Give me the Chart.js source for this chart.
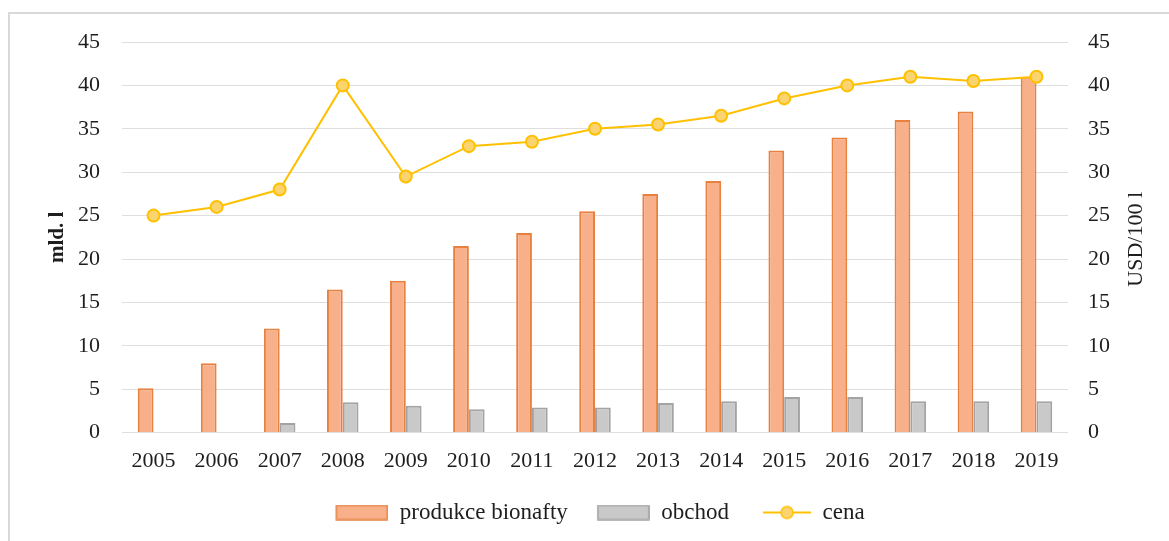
<!DOCTYPE html>
<html>
<head>
<meta charset="utf-8">
<script src="https://cdn.jsdelivr.net/npm/chart.js@4"></script>
<style>
    body { margin: 0; background: #fff; }
    #frame { position: absolute; left: 8px; top: 12px; width: 1175px; height: 545px; border: 2px solid #d9d9d9; box-sizing: border-box; }
    #wrap { position: absolute; left: 0; top: 0; width: 1169px; height: 541px; }
</style>
</head>
<body>
<div id="frame"></div>
<div id="wrap"><canvas id="chart"></canvas></div>
<script>
// Data
const years = ['2005', '2006', '2007', '2008', '2009', '2010', '2011', '2012', '2013', '2014', '2015', '2016', '2017', '2018', '2019'];
const production = [5.1, 8, 12, 16.5, 17.5, 21.5, 23, 25.5, 27.5, 29, 32.5, 34, 36, 37, 41];
const trade = [0, 0, 1.1, 3.5, 3.1, 2.7, 2.9, 2.9, 3.4, 3.6, 4.1, 4.1, 3.6, 3.6, 3.6];
const price = [25, 26, 28, 40, 29.5, 33, 33.5, 35, 35.5, 36.5, 38.5, 40, 41, 40.5, 41];
const axisTicks = [0, 5, 10, 15, 20, 25, 30, 35, 40, 45];

const FONT = 'Liberation Serif, Times New Roman, serif';
const TEXT = '#1e1e1e';
const SIZE = 22;

// Legend swatches (20px blank on the left acts as the gap between items)
function boxSwatch(fill, stroke) {
    const c = document.createElement('canvas');
    c.width = 72; c.height = 16;
    const g = c.getContext('2d');
    g.fillStyle = fill;
    g.fillRect(20, 1, 52, 14);
    g.strokeStyle = stroke;
    g.lineWidth = 1.5;
    g.strokeRect(20, 1, 51, 14);
    return c;
}
function lineSwatch() {
    const c = document.createElement('canvas');
    c.width = 72; c.height = 16;
    const g = c.getContext('2d');
    g.strokeStyle = '#ffc000';
    g.lineWidth = 2;
    g.beginPath(); g.moveTo(24, 8); g.lineTo(72, 8); g.stroke();
    g.beginPath(); g.arc(48, 8, 6, 0, Math.PI * 2);
    g.fillStyle = '#fbd36f'; g.fill();
    g.lineWidth = 1.5; g.stroke();
    return c;
}
const swatches = [boxSwatch('#f7b08a', '#e8803f'), boxSwatch('#c9c9c9', '#a3a3a3'), lineSwatch()];

// Right axis title reads bottom-to-top, like the left one
const rightTitle = {
    id: 'rightTitle',
    afterDraw(chart) {
        const s = chart.scales.y1;
        const ctx = chart.ctx;
        ctx.save();
        ctx.translate(1136, (s.top + s.bottom) / 2 + 2);
        ctx.rotate(-Math.PI / 2);
        ctx.font = '22px ' + FONT;
        ctx.fillStyle = TEXT;
        ctx.textAlign = 'center';
        ctx.textBaseline = 'middle';
        ctx.fillText('USD/100 l', 0, 0);
        ctx.restore();
    }
};

// Legend sits a bit right of the canvas centre in the reference
const legendShift = {
    id: 'legendShift',
    afterLayout(chart) {
        chart.legend.left += 6;
        chart.legend.right += 6;
    }
};

new Chart(document.getElementById('chart'), {
    type: 'bar',
    data: {
        labels: years,
        datasets: [{
            label: 'produkce bionafty',
            data: production,
            backgroundColor: '#f7b08a',
            borderColor: '#e8803f',
            borderWidth: 2,
            categoryPercentage: 0.5,
            barPercentage: 1.0,
            yAxisID: 'y'
        }, {
            label: 'obchod',
            data: trade,
            backgroundColor: '#c9c9c9',
            borderColor: '#a3a3a3',
            borderWidth: 2,
            categoryPercentage: 0.5,
            barPercentage: 1.0,
            yAxisID: 'y'
        }, {
            type: 'line',
            label: 'cena',
            data: price,
            borderColor: '#ffc000',
            borderWidth: 2,
            pointBackgroundColor: '#fbd36f',
            pointBorderColor: '#ffc000',
            pointBorderWidth: 2,
            pointRadius: 6,
            tension: 0,
            order: -1,
            yAxisID: 'y1'
        }]
    },
    options: {
        responsive: true,
        maintainAspectRatio: false,
        animation: false,
        layout: {
            padding: { top: 42, left: 0, right: 0, bottom: 7 }
        },
        plugins: {
            tooltip: { enabled: false },
            legend: {
                position: 'bottom',
                labels: {
                    usePointStyle: true,
                    pointStyleWidth: 72,
                    padding: 10,
                    color: TEXT,
                    font: { family: FONT, size: 23 },
                    generateLabels: function(chart) {
                        return chart.data.datasets.map(function(ds, i) {
                            return {
                                text: ds.label,
                                pointStyle: swatches[i],
                                datasetIndex: i,
                                fontColor: TEXT,
                                lineWidth: 0,
                                hidden: false
                            };
                        });
                    }
                }
            }
        },
        scales: {
            x: {
                grid: { display: false },
                border: { display: false },
                ticks: {
                    color: TEXT,
                    padding: 7,
                    maxRotation: 0,
                    font: { family: FONT, size: SIZE }
                },
                afterFit: function(s) { s.height = s.height + 10; }
            },
            y: {
                position: 'left',
                min: 0,
                max: 45,
                afterBuildTicks: function(s) { s.ticks = axisTicks.map(v => ({ value: v })); },
                grid: { color: '#dedede', lineWidth: 1, drawTicks: false },
                border: { display: false },
                ticks: {
                    color: TEXT,
                    padding: 22,
                    font: { family: FONT, size: SIZE }
                },
                title: {
                    display: true,
                    text: 'mld. l',
                    color: TEXT,
                    font: { family: FONT, size: 21, weight: 'bold' },
                    padding: { top: 45, bottom: 0 }
                },
                afterFit: function(s) { s.width = 122; }
            },
            y1: {
                position: 'right',
                min: 0,
                max: 45,
                afterBuildTicks: function(s) { s.ticks = axisTicks.map(v => ({ value: v })); },
                grid: { display: false, drawTicks: false },
                border: { display: false },
                ticks: {
                    color: TEXT,
                    padding: 20,
                    font: { family: FONT, size: SIZE }
                },
                afterFit: function(s) { s.width = 101; }
            }
        }
    },
    plugins: [rightTitle, legendShift]
});
</script>
</body>
</html>
